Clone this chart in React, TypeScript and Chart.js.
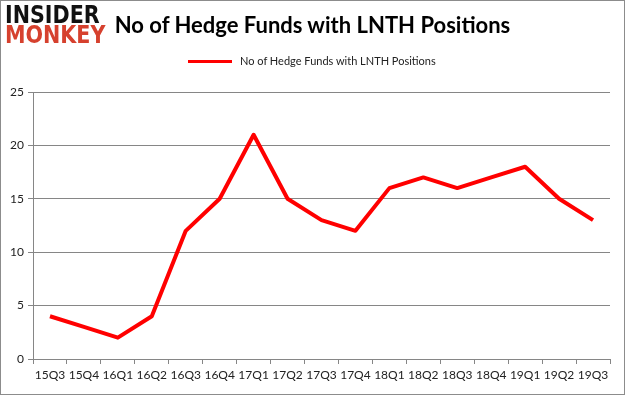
import React, { useEffect, useRef } from "react";
import { Chart, registerables } from "chart.js";

Chart.register(...registerables);

const categories = ["15Q3","15Q4","16Q1","16Q2","16Q3","16Q4","17Q1","17Q2","17Q3","17Q4","18Q1","18Q2","18Q3","18Q4","19Q1","19Q2","19Q3"];
const hedgeFunds = [4, 3, 2, 4, 12, 15, 21, 15, 13, 12, 16, 17, 16, 17, 18, 15, 13];
const seriesLabel = "No of Hedge Funds with LNTH Positions";
const titleText = "No of Hedge Funds with LNTH Positions";
const yTicks = [0, 5, 10, 15, 20, 25];

const FONT = "Lato, 'Open Sans', sans-serif";

export default function App() {
  const ref = useRef<HTMLCanvasElement | null>(null);

  useEffect(() => {
    document.body.style.margin = "0";
    const ctx = ref.current!;
    const chart = new Chart(ctx, {
      type: "line",
      data: {
        labels: categories,
        datasets: [
          {
            label: seriesLabel,
            data: hedgeFunds,
            borderColor: "#ff0000",
            backgroundColor: "#ff0000",
            borderWidth: 4,
            pointRadius: 0,
            tension: 0,
            borderCapStyle: "butt",
            borderJoinStyle: "round",
          },
        ],
      },
      options: {
        animation: false,
        responsive: false,
        layout: { padding: { left: 0, right: 15, top: 92, bottom: 0 } },
        plugins: {
          legend: { display: false },
          title: { display: false },
          tooltip: { enabled: false },
        },
        scales: {
          x: {
            type: "category",
            offset: true,
            grid: {
              offset: true,
              drawOnChartArea: false,
              drawTicks: true,
              tickLength: 5,
              color: "#868686",
            },
            border: { display: true, color: "#868686", width: 1 },
            ticks: {
              color: "#222",
              font: { family: FONT, size: 12 },
              maxRotation: 0,
              autoSkip: false,
              padding: 4,
            },
            afterFit: (s: any) => {
              s.height = 36;
            },
          },
          y: {
            min: 0,
            max: 25,
            afterBuildTicks: (s: any) => {
              s.ticks = yTicks.map((v) => ({ value: v }));
            },
            grid: {
              color: "#868686",
              drawTicks: true,
              tickLength: 5,
            },
            border: { display: true, color: "#868686", width: 1 },
            ticks: {
              color: "#222",
              font: { family: FONT, size: 12 },
              padding: 4,
            },
            afterFit: (s: any) => {
              s.width = 33;
            },
          },
        },
      },
    });
    return () => chart.destroy();
  }, []);

  return (
    <div
      style={{
        position: "fixed",
        left: 0,
        top: 0,
        width: 625,
        height: 395,
        background: "#fff",
      }}
    >
      <canvas ref={ref} width={625} height={395} style={{ position: "absolute", left: 0, top: 0 }} />
      <div
        style={{
          position: "absolute",
          left: 0,
          top: 0,
          width: 625,
          height: 395,
          boxSizing: "border-box",
          border: "1px solid #8c8c8c",
          pointerEvents: "none",
        }}
      />
      <div
        style={{
          position: "absolute",
          left: 5,
          top: 5,
          fontFamily: "'DejaVu Sans', sans-serif",
          fontWeight: 900,
          fontSize: 24,
          lineHeight: "20px",
          letterSpacing: 0,
          transform: "scaleX(0.86)",
          transformOrigin: "left top",
          whiteSpace: "nowrap",
        }}
      >
        <div style={{ color: "#111" }}>INSIDER</div>
        <div style={{ color: "#d6412e" }}>MONKEY</div>
      </div>
      <div
        style={{
          position: "absolute",
          left: 0,
          width: 625,
          top: 11,
          textAlign: "center",
          fontFamily: FONT,
          fontWeight: 700,
          fontSize: 22,
          color: "#000",
          lineHeight: "28px",
        }}
      >
        {titleText}
      </div>
      <div
        style={{
          position: "absolute",
          left: 188,
          top: 52,
          display: "flex",
          alignItems: "center",
          fontFamily: FONT,
          fontSize: 11,
          color: "#222",
          lineHeight: "18px",
          whiteSpace: "nowrap",
        }}
      >
        <span style={{ display: "inline-block", width: 44, height: 3, background: "#ff0000", marginRight: 8 }} />
        <span>{seriesLabel}</span>
      </div>
    </div>
  );
}
